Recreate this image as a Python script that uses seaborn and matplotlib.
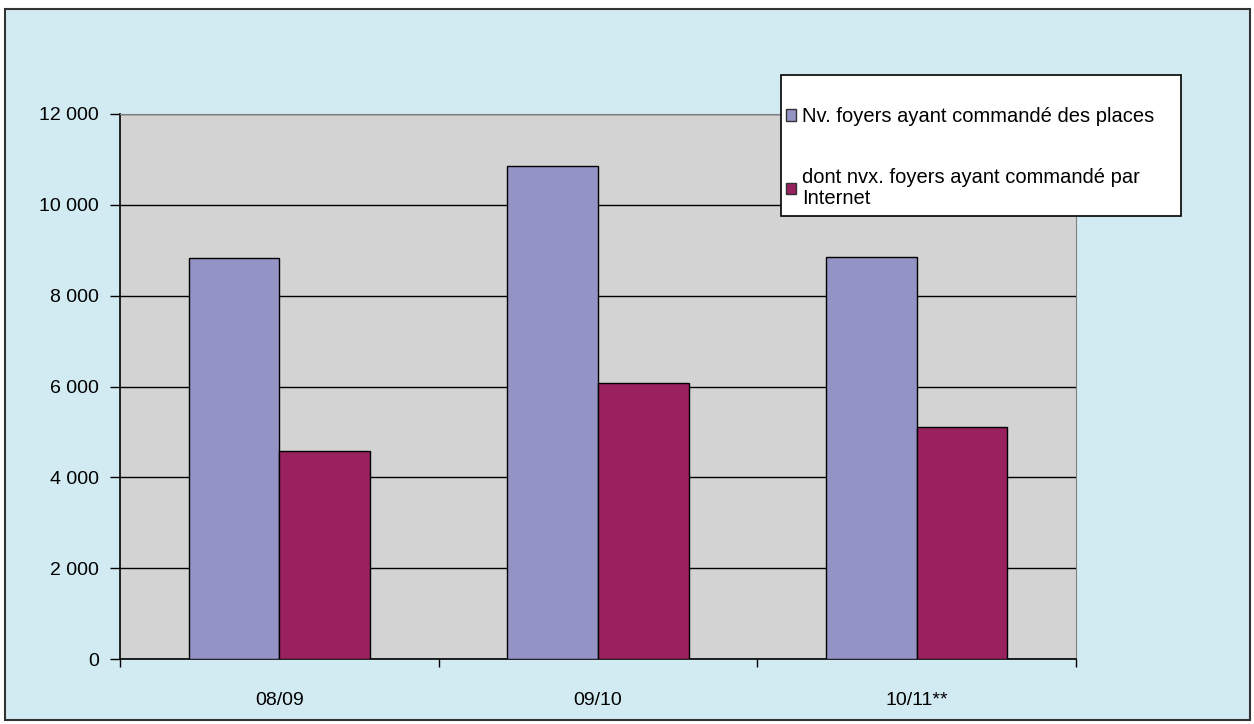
import pandas as pd
import matplotlib.pyplot as plt
import matplotlib.ticker as mticker
from matplotlib.patches import Rectangle
import seaborn as sns

# Values
seasons = ['08/09', '09/10', '10/11**']
nv_foyers = [8830, 10860, 8850]
nv_internet = [4580, 6080, 5110]
series_names = ['Nv. foyers ayant commandé des places',
                'dont nvx. foyers ayant commandé par\nInternet']

df = pd.DataFrame({
    'saison': seasons * 2,
    'valeur': nv_foyers + nv_internet,
    'serie': [series_names[0]] * 3 + [series_names[1]] * 3,
})

sns.set_style('white')
plt.rcParams['font.family'] = ['Liberation Sans', 'DejaVu Sans']
plt.rcParams['text.color'] = 'black'
plt.rcParams['xtick.color'] = 'black'
plt.rcParams['ytick.color'] = 'black'

W, H = 1254, 724
fig = plt.figure(figsize=(W / 100, H / 100), dpi=100)
fig.patch.set_facecolor('white')

# light blue chart frame
frame = Rectangle((5 / W, 1 - 720 / H), 1245 / W, 711 / H,
                  transform=fig.transFigure, facecolor='#d2eaf1',
                  edgecolor='#333333', linewidth=1.5, zorder=-10)
fig.patches.append(frame)

ax = fig.add_axes([120 / W, 1 - 659 / H, 956 / W, 545 / H])
ax.set_zorder(1)
ax.set_facecolor('#d3d3d3')

sns.barplot(data=df, x='saison', y='valeur', hue='serie', ax=ax,
            palette=['#9393c5', '#98215e'], width=0.57,
            edgecolor='black', linewidth=1, saturation=1, legend=False,
            zorder=3)

ax.set_ylim(0, 12000)
ax.set_xlim(-0.5, 2.5)
ax.set_yticks(range(0, 12001, 2000))
ax.yaxis.set_major_formatter(mticker.FuncFormatter(
    lambda v, p: f'{int(v):,}'.replace(',', ' ')))
ax.grid(axis='y', color='black', linewidth=1, zorder=1)
ax.set_axisbelow(True)

ax.set_xlabel('')
ax.set_ylabel('')
ax.tick_params(axis='y', labelsize=14, length=7, width=1, color='black',
               direction='out', left=True, pad=8)
ax.tick_params(axis='x', which='major', labelsize=14, length=0, pad=24)
ax.set_xticks([-0.5, 0.5, 1.5, 2.5], minor=True)
ax.tick_params(axis='x', which='minor', length=6, width=1, color='black',
               direction='out', bottom=True)

for side in ['left', 'bottom']:
    ax.spines[side].set_color('black')
    ax.spines[side].set_linewidth(1.2)
ax.spines['top'].set_color('#808080')
ax.spines['right'].set_color('#808080')
ax.spines['right'].set_linewidth(0.8)

# legend box (drawn separately so the padding can match the reference)
box = Rectangle((781 / W, 1 - 216 / H), 400 / W, 141 / H,
                transform=fig.transFigure, facecolor='white',
                edgecolor='black', linewidth=1.2, zorder=4)
fig.patches.append(box)

handles = [Rectangle((0, 0), 1, 1, facecolor=c, edgecolor='#333333', linewidth=1)
           for c in ['#9393c5', '#98215e']]
leg = fig.legend(handles, series_names, loc='upper left',
                 bbox_to_anchor=(786 / W, 1 - 107 / H),
                 fontsize=14.5, frameon=False,
                 handlelength=0.5, handleheight=0.5, handletextpad=0.3,
                 labelspacing=2.1, borderpad=0, borderaxespad=0)
for t in leg.get_texts():
    t.set_linespacing(1.1)
leg.set_zorder(5)

plt.savefig('out.png', dpi=100)
